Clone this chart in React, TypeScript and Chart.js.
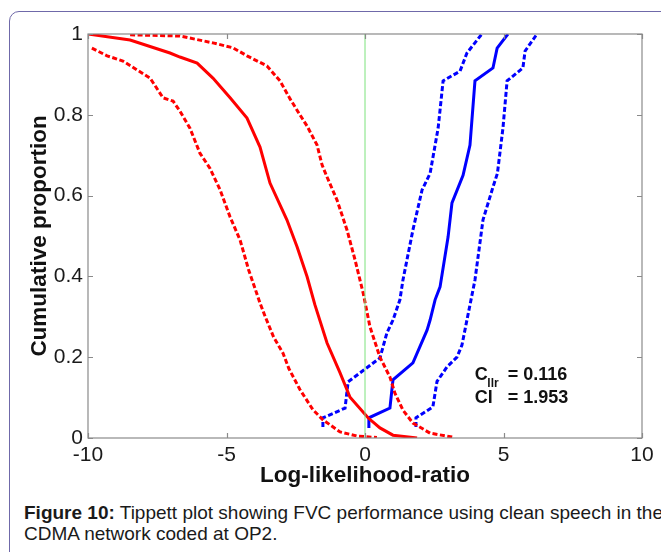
import React, { useEffect, useRef } from "react";
import { Chart, registerables } from "chart.js";

Chart.register(...registerables);

// ---- data ----
const xTickValues = [-10, -5, 0, 5, 10];
const yTickValues = [0, 0.2, 0.4, 0.6, 0.8, 1];

const redSolidX = [-10, -8.48, -7.04, -6.68, -6.06, -5.49, -4.87, -4.26, -3.79, -3.43, -2.82, -2.45, -2.09, -1.81, -1.37, -0.9, -0.54, 0.11, 0.54, 1.01, 1.88];
const redSolidY = [1, 0.985, 0.953, 0.943, 0.928, 0.891, 0.842, 0.792, 0.72, 0.631, 0.54, 0.473, 0.399, 0.33, 0.235, 0.161, 0.101, 0.05, 0.025, 0.007, 0.0];

const redLowX = [-9.86, -9.31, -8.74, -8.23, -7.76, -7.29, -6.93, -6.68, -6.32, -5.96, -5.6, -5.23, -4.87, -4.51, -4.2, -3.79, -3.6, -3.3, -2.96, -2.75, -2.35, -1.88, -1.52, -0.9, -0.29, 0.43];
const redLowY = [0.965, 0.946, 0.933, 0.911, 0.891, 0.842, 0.834, 0.809, 0.767, 0.705, 0.668, 0.614, 0.547, 0.49, 0.416, 0.334, 0.3, 0.25, 0.21, 0.172, 0.12, 0.07, 0.045, 0.015, 0.005, 0.001];

const redHighX = [-8.48, -6.68, -5.49, -4.77, -4.26, -3.54, -3.07, -2.71, -2.35, -2.09, -1.73, -1.55, -1.37, -1.01, -0.65, -0.36, -0.07, 0.18, 0.54, 0.9, 1.08, 1.37, 1.73, 2.35, 3.18];
const redHighY = [0.998, 0.995, 0.978, 0.966, 0.946, 0.921, 0.884, 0.84, 0.8, 0.772, 0.725, 0.676, 0.646, 0.589, 0.515, 0.441, 0.36, 0.275, 0.2, 0.151, 0.111, 0.069, 0.037, 0.012, 0.002];

const blueSolidX = [0.14, 0.14, 0.9, 1.01, 1.73, 2.24, 2.35, 2.53, 2.71, 3.0, 3.14, 3.54, 3.79, 3.97, 4.62, 4.77, 5.16];
const blueSolidY = [0.025, 0.05, 0.074, 0.144, 0.186, 0.267, 0.292, 0.342, 0.374, 0.498, 0.582, 0.65, 0.725, 0.884, 0.916, 0.965, 1.0];

const blueLowX = [-1.52, -1.52, -0.72, -0.61, 0.54, 0.79, 1.01, 1.26, 1.37, 1.73, 2.06, 2.35, 2.64, 2.82, 3.43, 3.68, 4.22];
const blueLowY = [0.027, 0.05, 0.074, 0.139, 0.198, 0.26, 0.292, 0.342, 0.391, 0.515, 0.614, 0.655, 0.767, 0.884, 0.908, 0.953, 1.0];

const blueHighX = [1.84, 1.84, 2.45, 2.6, 2.96, 3.32, 3.5, 3.68, 3.97, 4.26, 4.62, 4.78, 4.98, 5.13, 5.7, 5.78, 6.21];
const blueHighY = [0.027, 0.05, 0.077, 0.14, 0.176, 0.2, 0.23, 0.292, 0.391, 0.54, 0.621, 0.655, 0.767, 0.884, 0.916, 0.958, 1.0];

const thresholdX = [0, 0];
const thresholdY = [0, 1];

const cllrText = "= 0.116";
const ciText = "= 1.953";

const pts = (xs: number[], ys: number[]) => xs.map((x, i) => ({ x, y: ys[i] }));

const FONT = "'Liberation Sans', Arial, Helvetica, sans-serif";

const framePlugin = {
  id: "frameTicks",
  afterDatasetsDraw(chart: any) {
    const { ctx, chartArea } = chart;
    const xs = chart.scales.x;
    const ys = chart.scales.y;
    const { left, right, top, bottom } = chartArea;
    ctx.save();
    ctx.strokeStyle = "#8a8a8a";
    ctx.lineWidth = 1.2;
    ctx.strokeRect(left, top, right - left, bottom - top);
    const len = 5;
    ctx.beginPath();
    xTickValues.forEach((v) => {
      const p = Math.round(xs.getPixelForValue(v)) + 0.5;
      ctx.moveTo(p, bottom);
      ctx.lineTo(p, bottom - len);
      ctx.moveTo(p, top);
      ctx.lineTo(p, top + len);
    });
    yTickValues.forEach((v) => {
      const p = Math.round(ys.getPixelForValue(v)) + 0.5;
      ctx.moveTo(left, p);
      ctx.lineTo(left + len, p);
      ctx.moveTo(right, p);
      ctx.lineTo(right - len, p);
    });
    ctx.stroke();

    // annotation
    const x0 = xs.getPixelForValue(4) - 1;
    const y1 = ys.getPixelForValue(0.143);
    const y2 = y1 + 23;
    ctx.fillStyle = "#111";
    ctx.textAlign = "left";
    ctx.textBaseline = "alphabetic";
    ctx.font = `bold 18px ${FONT}`;
    ctx.fillText("C", x0, y1);
    ctx.fillText(cllrText, x0 + 33, y1);
    ctx.fillText("Cl", x0, y2);
    ctx.fillText(ciText, x0 + 33, y2);
    ctx.font = `bold 12px ${FONT}`;
    ctx.fillText("llr", x0 + 12.5, y1 + 7);
    ctx.restore();
  },
};

const fmt = (v: any) => String(Number(Number(v).toFixed(1)));

export default function App() {
  const ref = useRef<HTMLCanvasElement | null>(null);

  useEffect(() => {
    if (!ref.current) return;
    const dash = [5, 2.5];
    const chart = new Chart(ref.current, {
      type: "scatter",
      data: {
        datasets: [
          { data: pts(thresholdX, thresholdY), borderColor: "#7de27d", borderWidth: 1, showLine: true, pointRadius: 0 },
          { data: pts(redLowX, redLowY), borderColor: "#ff0000", borderWidth: 3, borderDash: dash, showLine: true, pointRadius: 0 },
          { data: pts(redHighX, redHighY), borderColor: "#ff0000", borderWidth: 3, borderDash: dash, showLine: true, pointRadius: 0 },
          { data: pts(redSolidX, redSolidY), borderColor: "#ff0000", borderWidth: 3, showLine: true, pointRadius: 0 },
          { data: pts(blueLowX, blueLowY), borderColor: "#0000ff", borderWidth: 3, borderDash: dash, showLine: true, pointRadius: 0 },
          { data: pts(blueHighX, blueHighY), borderColor: "#0000ff", borderWidth: 3, borderDash: dash, showLine: true, pointRadius: 0 },
          { data: pts(blueSolidX, blueSolidY), borderColor: "#0000ff", borderWidth: 3, showLine: true, pointRadius: 0 },
        ],
      },
      options: {
        animation: false,
        responsive: false,
        layout: { padding: { left: 0, top: 34, right: 19, bottom: 0 } },
        plugins: { legend: { display: false }, tooltip: { enabled: false } },
        elements: { line: { tension: 0 } },
        scales: {
          x: {
            type: "linear",
            min: -10,
            max: 10,
            grid: { display: false, drawTicks: false },
            border: { display: false },
            ticks: { stepSize: 5, autoSkip: false, padding: 5, color: "#1a1a1a", font: { family: FONT, size: 21 }, callback: fmt },
            title: { display: true, text: "Log-likelihood-ratio", color: "#111", font: { family: FONT, size: 22.5, weight: "bold" }, padding: { top: 0, bottom: 11 } },
            afterFit: (s: any) => { s.height = 62; },
          },
          y: {
            type: "linear",
            min: 0,
            max: 1,
            grid: { display: false, drawTicks: false },
            border: { display: false },
            ticks: { stepSize: 0.2, autoSkip: false, padding: 5, color: "#1a1a1a", font: { family: FONT, size: 21 }, callback: fmt },
            title: { display: true, text: "Cumulative proportion", color: "#111", font: { family: FONT, size: 22.5, weight: "bold" }, padding: { top: 26, bottom: 0 } },
            afterFit: (s: any) => { s.width = 88; },
          },
        },
      },
      plugins: [framePlugin],
    });
    return () => chart.destroy();
  }, []);

  return (
    <div style={{ position: "absolute", left: 0, top: 0, width: 661, height: 552, overflow: "hidden", background: "#fff" }}>
      <div style={{ position: "absolute", left: 9, top: 11, width: 720, height: 620, border: "1.5px solid #6f69a9", borderRadius: 10 }} />
      <canvas ref={ref} width={661} height={500} style={{ position: "absolute", left: 0, top: 0, width: 661, height: 500 }} />
      <div style={{ position: "absolute", left: 24, top: 502, fontFamily: FONT, fontSize: 19, lineHeight: "21px", color: "#1a1a1a", whiteSpace: "nowrap" }}>
        <b>Figure 10:</b> Tippett plot showing FVC performance using clean speech in the
        <br />
        CDMA network coded at OP2.
      </div>
    </div>
  );
}
